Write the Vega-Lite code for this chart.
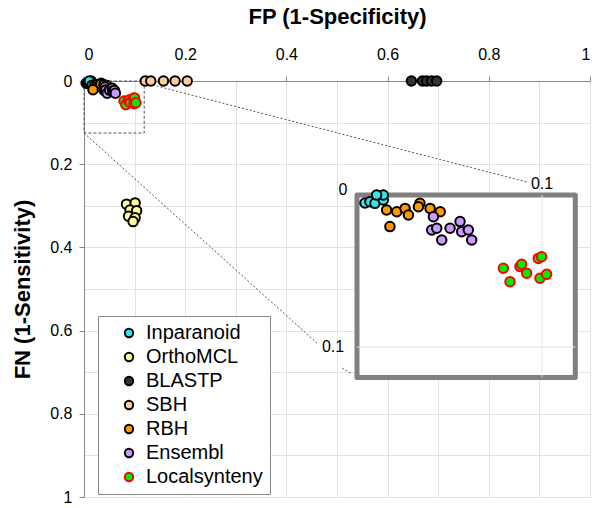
{
  "$schema": "https://vega.github.io/schema/vega-lite/v6.json",
  "width": 506,
  "height": 416,
  "autosize": "none",
  "padding": {"left": 84, "top": 81, "right": 10, "bottom": 11},
  "background": "white",
  "config": {
    "font": "Liberation Sans",
    "view": {"stroke": "#888888", "strokeWidth": 1},
    "axis": {
      "domainColor": "#888888",
      "tickColor": "#888888",
      "tickSize": 5,
      "gridColor": "#e2e2e2",
      "labelFont": "Liberation Sans",
      "labelFontSize": 16,
      "labelColor": "black",
      "titleFont": "Liberation Sans",
      "titleFontSize": 22,
      "titleFontWeight": "bold",
      "titleColor": "black"
    },
    "legend": {
      "orient": "none",
      "legendX": 14,
      "legendY": 235,
      "fillColor": "white",
      "strokeColor": "#888888",
      "padding": 7,
      "symbolType": "circle",
      "symbolSize": 70,
      "symbolStrokeWidth": 2,
      "labelFont": "Liberation Sans",
      "labelFontSize": 20,
      "labelColor": "black",
      "rowPadding": 4,
      "symbolOffset": 14,
      "labelOffset": 7
    }
  },
  "datasets": {
    "pts": [
      {"method": "BLASTP", "fp": 0.647, "fn": 0},
      {"method": "BLASTP", "fp": 0.669, "fn": 0},
      {"method": "BLASTP", "fp": 0.677, "fn": 0},
      {"method": "BLASTP", "fp": 0.687, "fn": 0},
      {"method": "BLASTP", "fp": 0.697, "fn": 0},
      {"method": "SBH", "fp": 0.121, "fn": 0},
      {"method": "SBH", "fp": 0.132, "fn": 0},
      {"method": "SBH", "fp": 0.157, "fn": 0},
      {"method": "SBH", "fp": 0.180, "fn": 0},
      {"method": "SBH", "fp": 0.204, "fn": 0},
      {"method": "OrthoMCL", "fp": 0.084, "fn": 0.296},
      {"method": "OrthoMCL", "fp": 0.101, "fn": 0.293},
      {"method": "OrthoMCL", "fp": 0.091, "fn": 0.310},
      {"method": "OrthoMCL", "fp": 0.104, "fn": 0.312},
      {"method": "OrthoMCL", "fp": 0.088, "fn": 0.325},
      {"method": "OrthoMCL", "fp": 0.101, "fn": 0.329},
      {"method": "OrthoMCL", "fp": 0.097, "fn": 0.338},
      {"method": "Inparanoid", "fp": 0.0043, "fn": 0.0053},
      {"method": "Inparanoid", "fp": 0.0070, "fn": 0.0044},
      {"method": "Inparanoid", "fp": 0.0097, "fn": 0.0055},
      {"method": "Inparanoid", "fp": 0.0142, "fn": 0.0033},
      {"method": "Inparanoid", "fp": 0.0142, "fn": 0.0},
      {"method": "Inparanoid", "fp": 0.0106, "fn": 0.0},
      {"method": "RBH", "fp": 0.034, "fn": 0.0055},
      {"method": "RBH", "fp": 0.016, "fn": 0.0099},
      {"method": "RBH", "fp": 0.0215, "fn": 0.011},
      {"method": "RBH", "fp": 0.026, "fn": 0.0088},
      {"method": "RBH", "fp": 0.0278, "fn": 0.0132},
      {"method": "RBH", "fp": 0.0332, "fn": 0.0077},
      {"method": "RBH", "fp": 0.0395, "fn": 0.0088},
      {"method": "RBH", "fp": 0.045, "fn": 0.011},
      {"method": "RBH", "fp": 0.0178, "fn": 0.0208},
      {"method": "Ensembl", "fp": 0.0413, "fn": 0.0143},
      {"method": "Ensembl", "fp": 0.0404, "fn": 0.023},
      {"method": "Ensembl", "fp": 0.0431, "fn": 0.0219},
      {"method": "Ensembl", "fp": 0.0458, "fn": 0.0296},
      {"method": "Ensembl", "fp": 0.0503, "fn": 0.0219},
      {"method": "Ensembl", "fp": 0.0557, "fn": 0.0175},
      {"method": "Ensembl", "fp": 0.0566, "fn": 0.0241},
      {"method": "Ensembl", "fp": 0.0602, "fn": 0.023},
      {"method": "Ensembl", "fp": 0.062, "fn": 0.0296},
      {"method": "Localsynteny", "fp": 0.0791, "fn": 0.0482},
      {"method": "Localsynteny", "fp": 0.0827, "fn": 0.057},
      {"method": "Localsynteny", "fp": 0.0881, "fn": 0.0471},
      {"method": "Localsynteny", "fp": 0.089, "fn": 0.0456},
      {"method": "Localsynteny", "fp": 0.0917, "fn": 0.0515},
      {"method": "Localsynteny", "fp": 0.098, "fn": 0.0417},
      {"method": "Localsynteny", "fp": 0.0998, "fn": 0.0406},
      {"method": "Localsynteny", "fp": 0.0989, "fn": 0.0548},
      {"method": "Localsynteny", "fp": 0.1025, "fn": 0.0522}
    ],
    "zoomrect": [{"fp": 0, "fp2": 0.119, "fn": 0, "fn2": 0.125}],
    "conn": [
      {"seg": "a", "fp": 0.1206, "fn": 0.0048},
      {"seg": "a", "fp": 0.875, "fn": 0.2428},
      {"seg": "b", "fp": 0.0, "fn": 0.125},
      {"seg": "b", "fp": 0.4605, "fn": 0.63},
      {"seg": "c", "fp": 0.51, "fn": 0.69},
      {"seg": "c", "fp": 0.5296, "fn": 0.704}
    ],
    "ibox": [{"fp": 0, "fp2": 0.118, "fn": 0, "fn2": 0.12}],
    "igrid": [
      {"fp": 0.1, "fp2": 0.1, "fn": 0.0, "fn2": 0.12},
      {"fp": 0.0, "fp2": 0.118, "fn": 0.1, "fn2": 0.1}
    ],
    "ilab0": [{"fp": 0, "fn": 0, "label": "0"}],
    "ilabTop": [{"fp": 0.1, "fn": 0, "label": "0.1"}],
    "ilabLeft": [{"fp": 0, "fn": 0.1, "label": "0.1"}]
  },
  "layer": [
    {
      "layer": [
        {
          "data": {"name": "zoomrect"},
          "mark": {"type": "rect", "fill": "transparent", "stroke": "#555555", "strokeWidth": 1, "strokeDash": [3, 2]},
          "encoding": {
            "x": {
              "field": "fp", "type": "quantitative",
              "scale": {"domain": [0, 1], "nice": false},
              "axis": {
                "orient": "top",
                "title": "FP (1-Specificity)",
                "values": [0, 0.1, 0.2, 0.3, 0.4, 0.5, 0.6, 0.7, 0.8, 0.9, 1],
                "format": "~g",
                "labelExpr": "round(datum.value*10)%2==0 ? datum.label : ''",
                "tickOpacity": {"condition": {"test": "round(datum.value*10)%2==0", "value": 1}, "value": 0},
                "labelPadding": 14,
                "titlePadding": 18
              }
            },
            "x2": {"field": "fp2"},
            "y": {
              "field": "fn", "type": "quantitative",
              "scale": {"domain": [0, 1], "nice": false, "reverse": true},
              "axis": {
                "title": "FN (1-Sensitivity)",
                "values": [0, 0.1, 0.2, 0.3, 0.4, 0.5, 0.6, 0.7, 0.8, 0.9, 1],
                "format": "~g",
                "labelExpr": "round(datum.value*10)%2==0 ? datum.label : ''",
                "tickOpacity": {"condition": {"test": "round(datum.value*10)%2==0", "value": 1}, "value": 0},
                "labelPadding": 7,
                "titlePadding": 15
              }
            },
            "y2": {"field": "fn2"}
          }
        },
        {
          "data": {"name": "conn"},
          "mark": {"type": "line", "color": "#555555", "strokeWidth": 1, "strokeDash": [2, 2]},
          "encoding": {
            "x": {"field": "fp", "type": "quantitative"},
            "y": {"field": "fn", "type": "quantitative"},
            "detail": {"field": "seg"}
          }
        },
        {
          "data": {"name": "pts"},
          "mark": {"type": "circle", "size": 90, "strokeWidth": 2, "opacity": 1, "fillOpacity": 1, "strokeOpacity": 1},
          "encoding": {
            "x": {"field": "fp", "type": "quantitative"},
            "y": {"field": "fn", "type": "quantitative"},
            "fill": {
              "field": "method", "type": "nominal",
              "scale": {
                "domain": ["Inparanoid", "OrthoMCL", "BLASTP", "SBH", "RBH", "Ensembl", "Localsynteny"],
                "range": ["#33e5ea", "#ffff99", "#333333", "#ffcc99", "#ff9900", "#cc99ff", "#00ee00"]
              },
              "legend": {"title": null}
            },
            "stroke": {
              "field": "method", "type": "nominal",
              "scale": {
                "domain": ["Inparanoid", "OrthoMCL", "BLASTP", "SBH", "RBH", "Ensembl", "Localsynteny"],
                "range": ["#000000", "#000000", "#000000", "#000000", "#000000", "#000000", "#ff0000"]
              },
              "legend": {"title": null}
            }
          }
        }
      ]
    },
    {
      "layer": [
        {
          "data": {"name": "ibox"},
          "mark": {"type": "rect", "fill": "white", "stroke": "#808080", "strokeWidth": 5, "strokeJoin": "round"},
          "encoding": {
            "x": {"field": "fp", "type": "quantitative", "scale": {"domain": [0, 0.12], "range": [273, 495], "nice": false, "zero": false}, "axis": null},
            "x2": {"field": "fp2"},
            "y": {"field": "fn", "type": "quantitative", "scale": {"domain": [0, 0.12], "range": [114, 296.4], "nice": false, "zero": false}, "axis": null},
            "y2": {"field": "fn2"}
          }
        },
        {
          "data": {"name": "igrid"},
          "mark": {"type": "rule", "color": "#e2e2e2", "strokeWidth": 1},
          "encoding": {
            "x": {"field": "fp", "type": "quantitative", "axis": null},
            "x2": {"field": "fp2"},
            "y": {"field": "fn", "type": "quantitative", "axis": null},
            "y2": {"field": "fn2"}
          }
        },
        {
          "data": {"name": "pts"},
          "transform": [{"filter": "datum.fp <= 0.12 && datum.fn <= 0.12"}],
          "mark": {"type": "circle", "size": 90, "strokeWidth": 2, "opacity": 1, "fillOpacity": 1, "strokeOpacity": 1},
          "encoding": {
            "x": {"field": "fp", "type": "quantitative", "axis": null},
            "y": {"field": "fn", "type": "quantitative", "axis": null},
            "fill": {"field": "method", "type": "nominal", "legend": null},
            "stroke": {"field": "method", "type": "nominal", "legend": null}
          }
        },
        {
          "data": {"name": "ilab0"},
          "mark": {"type": "text", "fontSize": 16, "color": "black", "align": "center", "baseline": "middle", "dx": -14, "dy": -5},
          "encoding": {
            "x": {"field": "fp", "type": "quantitative", "axis": null},
            "y": {"field": "fn", "type": "quantitative", "axis": null},
            "text": {"field": "label"}
          }
        },
        {
          "data": {"name": "ilabTop"},
          "mark": {"type": "text", "fontSize": 16, "color": "black", "align": "center", "baseline": "middle", "dy": -11},
          "encoding": {
            "x": {"field": "fp", "type": "quantitative", "axis": null},
            "y": {"field": "fn", "type": "quantitative", "axis": null},
            "text": {"field": "label"}
          }
        },
        {
          "data": {"name": "ilabLeft"},
          "mark": {"type": "text", "fontSize": 16, "color": "black", "align": "center", "baseline": "middle", "dx": -24},
          "encoding": {
            "x": {"field": "fp", "type": "quantitative", "axis": null},
            "y": {"field": "fn", "type": "quantitative", "axis": null},
            "text": {"field": "label"}
          }
        }
      ]
    }
  ],
  "resolve": {"scale": {"x": "independent", "y": "independent"}}
}
